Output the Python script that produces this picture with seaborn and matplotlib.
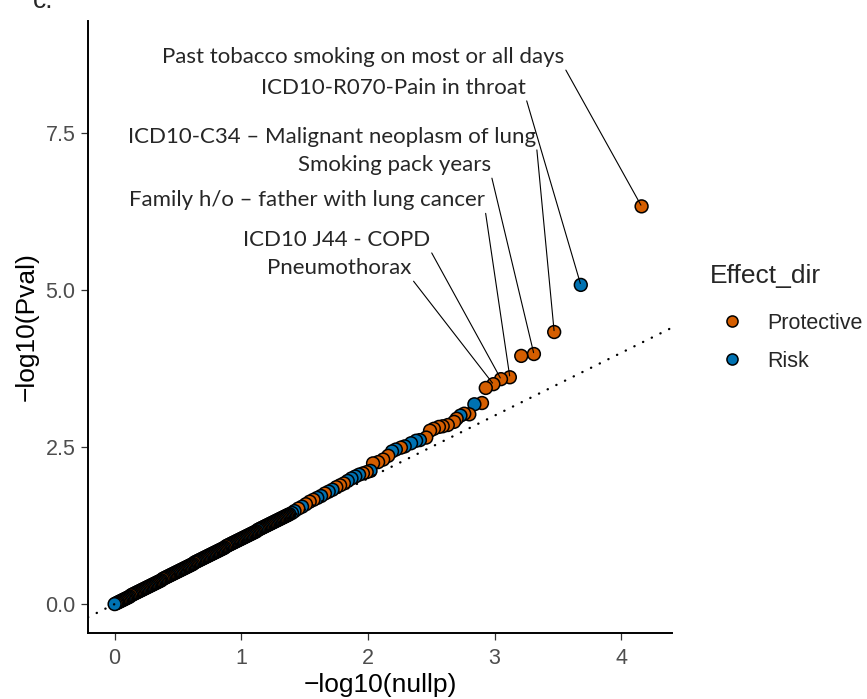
import matplotlib
matplotlib.use("Agg")
import matplotlib.pyplot as plt
from matplotlib.lines import Line2D
import pandas as pd
import seaborn as sns

# sparse upper tail of the QQ plot
tail_x = [4.16, 3.68, 3.47, 3.31, 3.21, 3.12, 3.05, 2.99, 2.93, 2.90, 2.84, 2.80,
          2.76, 2.73, 2.70, 2.68, 2.63, 2.59, 2.56, 2.52, 2.49, 2.46, 2.41, 2.38,
          2.34, 2.29, 2.26, 2.22, 2.19, 2.16, 2.12, 2.08, 2.04, 2.02, 1.99, 1.96,
          1.93, 1.90, 1.87, 1.84, 1.81, 1.78, 1.75, 1.72, 1.69, 1.66, 1.63, 1.60,
          1.57, 1.54, 1.51, 1.48, 1.45, 1.42, 1.40]
tail_y = [6.33, 5.08, 4.33, 3.98, 3.95, 3.61, 3.58, 3.50, 3.44, 3.20, 3.18, 3.02,
          3.03, 3.00, 2.95, 2.90, 2.85, 2.83, 2.82, 2.79, 2.76, 2.65, 2.61, 2.60,
          2.56, 2.51, 2.49, 2.46, 2.43, 2.36, 2.30, 2.26, 2.24, 2.12, 2.10, 2.08,
          2.06, 2.03, 2.00, 1.96, 1.92, 1.89, 1.86, 1.82, 1.79, 1.76, 1.72, 1.69,
          1.66, 1.63, 1.59, 1.55, 1.52, 1.48, 1.45]
tail_dir = "PRPPP PPPPP RPPRP PPPPP PPRRR RPRRP PPPRP PRRRR PPPRR PRRPP PRPRR"

# dense lower band, where the points overlap into a black line
band_x = [0.00, 0.01, 0.02, 0.03, 0.04, 0.05, 0.06, 0.07, 0.08, 0.09,
          0.10, 0.11, 0.12, 0.13, 0.14, 0.15, 0.16, 0.17, 0.18, 0.19,
          0.20, 0.21, 0.22, 0.23, 0.24, 0.25, 0.26, 0.27, 0.28, 0.29,
          0.30, 0.31, 0.32, 0.33, 0.34, 0.35, 0.36, 0.37, 0.38, 0.39,
          0.40, 0.41, 0.42, 0.43, 0.44, 0.45, 0.46, 0.47, 0.48, 0.49,
          0.50, 0.51, 0.52, 0.53, 0.54, 0.55, 0.56, 0.57, 0.58, 0.59,
          0.60, 0.61, 0.62, 0.63, 0.64, 0.65, 0.66, 0.67, 0.68, 0.69,
          0.70, 0.71, 0.72, 0.73, 0.74, 0.75, 0.76, 0.77, 0.78, 0.79,
          0.80, 0.81, 0.82, 0.83, 0.84, 0.85, 0.86, 0.87, 0.88, 0.89,
          0.90, 0.91, 0.92, 0.93, 0.94, 0.95, 0.96, 0.97, 0.98, 0.99,
          1.00, 1.01, 1.02, 1.03, 1.04, 1.05, 1.06, 1.07, 1.08, 1.09,
          1.10, 1.11, 1.12, 1.13, 1.14, 1.15, 1.16, 1.17, 1.18, 1.19,
          1.20, 1.21, 1.22, 1.23, 1.24, 1.25, 1.26, 1.27, 1.28, 1.29,
          1.30, 1.31, 1.32, 1.33, 1.34, 1.35, 1.36, 1.37, 1.38]
band_y = [0.00, 0.01, 0.02, 0.03, 0.04, 0.05, 0.06, 0.07, 0.08, 0.09,
          0.10, 0.11, 0.12, 0.14, 0.15, 0.16, 0.17, 0.18, 0.19, 0.20,
          0.21, 0.22, 0.23, 0.24, 0.25, 0.26, 0.27, 0.28, 0.29, 0.30,
          0.31, 0.32, 0.33, 0.34, 0.35, 0.36, 0.37, 0.38, 0.40, 0.41,
          0.42, 0.43, 0.44, 0.45, 0.46, 0.47, 0.48, 0.49, 0.50, 0.51,
          0.52, 0.53, 0.54, 0.55, 0.56, 0.57, 0.58, 0.59, 0.60, 0.61,
          0.62, 0.63, 0.64, 0.66, 0.67, 0.68, 0.69, 0.70, 0.71, 0.72,
          0.73, 0.74, 0.75, 0.76, 0.77, 0.78, 0.79, 0.80, 0.81, 0.82,
          0.83, 0.84, 0.85, 0.86, 0.87, 0.88, 0.89, 0.90, 0.92, 0.93,
          0.94, 0.95, 0.96, 0.97, 0.98, 0.99, 1.00, 1.01, 1.02, 1.03,
          1.04, 1.05, 1.06, 1.07, 1.08, 1.09, 1.10, 1.11, 1.12, 1.13,
          1.14, 1.15, 1.16, 1.18, 1.19, 1.20, 1.21, 1.22, 1.23, 1.24,
          1.25, 1.26, 1.27, 1.28, 1.29, 1.30, 1.31, 1.32, 1.33, 1.34,
          1.35, 1.36, 1.37, 1.38, 1.39, 1.40, 1.41, 1.42, 1.43]
band_dir = ("RPPRPPRPRP PRPPRPPPRP RPPRPPRPRP PPRPRPPRPP RPPPRPRPPR "
            "PPRPRPPRPP PRPPRPRPPR PPRPPRPRPP RPPPRPRPPR PRPPRPPRPR "
            "PPRPPRPRPP RPPRPPRPRP PPRPRPPRPP RPPRPRPPR")

# labelled phenotypes
label_names = ["Past tobacco smoking on most or all days",
               "ICD10-R070-Pain in throat",
               "ICD10-C34 \u2013 Malignant neoplasm of lung",
               "Smoking pack years",
               "Family h/o \u2013 father with lung cancer",
               "ICD10 J44 - COPD",
               "Pneumothorax"]
label_px = [4.16, 3.68, 3.47, 3.31, 3.12, 3.05, 2.99]
label_py = [6.33, 5.08, 4.33, 3.98, 3.61, 3.58, 3.50]
label_tx = [1.96, 2.20, 1.72, 2.21, 1.52, 1.75, 1.77]
label_ty = [8.71, 8.22, 7.44, 6.99, 6.43, 5.80, 5.35]

dir_names = {"P": "Protective", "R": "Risk"}
colors = {"Protective": "#D55E00", "Risk": "#0072B2"}

df = pd.DataFrame({
    "nullp": tail_x + band_x,
    "pval": tail_y + band_y,
    "Effect_dir": [dir_names[c] for c in (tail_dir + band_dir).replace(" ", "")],
})
# most significant first, so the small ones are drawn on top
df = df.sort_values("nullp", ascending=False, kind="stable")

sns.set_style("ticks")
plt.rcParams["font.family"] = ["Liberation Sans", "DejaVu Sans"]

fig = plt.figure(figsize=(8.67, 6.99), dpi=100)
ax = fig.add_axes([88 / 867, 66 / 699, 584 / 867, 612 / 699])

sns.scatterplot(data=df, x="nullp", y="pval", hue="Effect_dir",
                hue_order=["Protective", "Risk"], palette=colors,
                s=85, edgecolor="black", linewidth=1.1, legend=False,
                ax=ax, zorder=2)

ax.axline((0, 0), slope=1, color="black", lw=1.7,
          linestyle=(0, (0.1, 4.0)), dash_capstyle="round", zorder=4)

for name, px, py, tx, ty in zip(label_names, label_px, label_py, label_tx, label_ty):
    ax.annotate(name, xy=(px, py), xytext=(tx, ty), textcoords="data",
                ha="center", va="center", fontsize=16, family="Lato",
                arrowprops=dict(arrowstyle="-", color="black", lw=0.8,
                                relpos=(1, 0), shrinkA=0, shrinkB=1),
                zorder=5)

ax.set_xlim(-0.21, 4.40)
ax.set_ylim(-0.46, 9.28)
ax.set_xticks([0, 1, 2, 3, 4])
ax.set_yticks([0, 2.5, 5, 7.5])
ax.set_yticklabels(["0.0", "2.5", "5.0", "7.5"])
ax.tick_params(labelsize=15.5, labelcolor="#4D4D4D", color="#333333",
               length=5, width=0.9)
ax.tick_params(axis="x", pad=6)
ax.tick_params(axis="y", pad=4)
for side in ["top", "right"]:
    ax.spines[side].set_visible(False)
for side in ["left", "bottom"]:
    ax.spines[side].set_linewidth(1.4)
    ax.spines[side].set_color("black")

ax.set_xlabel("\u2212log10(nullp)", fontsize=19, labelpad=3, color="black")
ax.set_ylabel("\u2212log10(Pval)", fontsize=19, labelpad=5, color="black")

handles = [Line2D([], [], marker="o", linestyle="", markerfacecolor=colors[k],
                  markeredgecolor="black", markeredgewidth=1.1, markersize=8)
           for k in ["Protective", "Risk"]]
leg = ax.legend(handles, ["Protective", "Risk"], title="Effect_dir",
                loc="upper left", bbox_to_anchor=(710 / 867, 1 - 264 / 699),
                bbox_transform=fig.transFigure, frameon=False, fontsize=15.5,
                title_fontsize=19, handlelength=2.05, handletextpad=0.6,
                labelspacing=0.79, borderpad=0, borderaxespad=0, alignment="left")
leg._legend_box.sep = 18

fig.text(33 / 867, 1 - 8 / 699, "c.", fontsize=19, va="baseline", ha="left")

fig.savefig("out.png", dpi=100)
